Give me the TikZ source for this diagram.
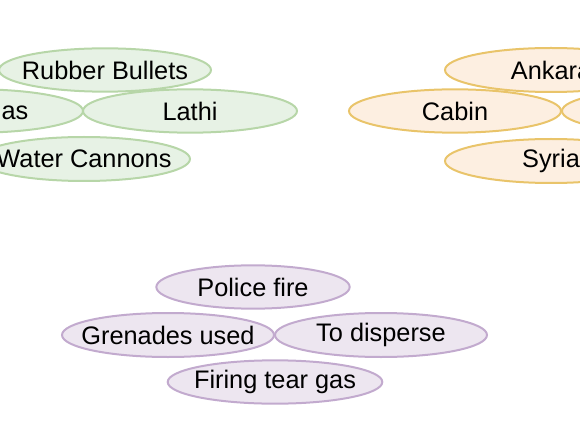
\documentclass[tikz,border=0pt]{standalone}
\usepackage{fontspec}
\setmainfont{Liberation Sans}
\usetikzlibrary{shapes.geometric}
\definecolor{greenfill}{HTML}{E7F2E5}
\definecolor{greenline}{HTML}{B7D6A8}
\definecolor{orangefill}{HTML}{FDEFE1}
\definecolor{orangeline}{HTML}{E9C46A}
\definecolor{purplefill}{HTML}{EDE6F0}
\definecolor{purpleline}{HTML}{C2AACE}
\begin{document}
\begin{tikzpicture}[x=0.75pt, y=-0.75pt, line width=1.5pt,
                    word node/.style={ellipse, inner xsep=-45pt, inner ysep=0pt, minimum width=159pt, minimum height=32.5pt,
                                      font=\fontsize{19}{21}\selectfont},
                    green node/.style={word node, draw=greenline, fill=greenfill},
                    orange node/.style={word node, draw=orangeline, fill=orangefill},
                    purple node/.style={word node, draw=purpleline, fill=purplefill}]

  \clip (0,0) rectangle (580,434);

  % protest weapons
  \node[green node] (rubber) at (105,70) {Rubber Bullets};
  \node[green node] (tear) at (-23,111) {Tear Gas};
  \node[green node, minimum width=160.5pt] (lathi) at (190,111) {Lathi};
  \node[green node, minimum height=33pt] (water) at (84,159) {Water Cannons};

  % places
  \node[orange node, minimum height=33pt] (ankara) at (551,70) {Ankara};
  \node[orange node] (cabin) at (455,111) {Cabin};
  \node[orange node] (other) at (668,111) {};
  \node[orange node, minimum height=33pt] (syria) at (551,161) {Syria};

  % police action
  \node[purple node, minimum width=145pt] (police) at (253,287) {Police fire};
  \node[purple node, minimum height=33pt] (grenades) at (168,335) {Grenades used};
  \node[purple node, minimum height=33pt] (disperse) at (381,335) {To disperse};
  \node[purple node, minimum width=161pt] (firing) at (275,382) {Firing tear gas};

\end{tikzpicture}
\end{document}
